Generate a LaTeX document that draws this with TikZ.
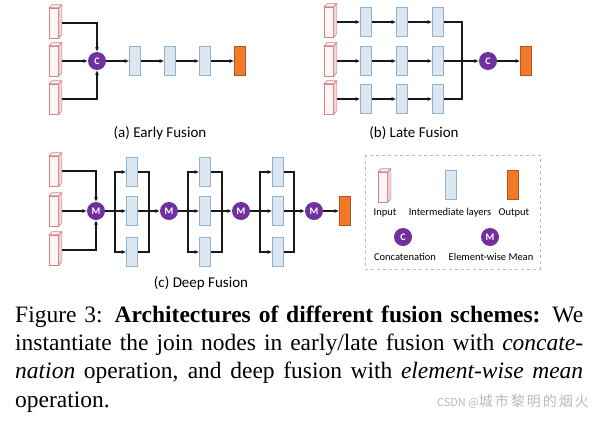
\documentclass[tikz,border=0pt]{standalone}
\usepackage{fontspec}
\setmainfont{Liberation Serif}
\setsansfont{Carlito}
\newfontfamily\cjkfont{Noto Sans CJK SC}
\usetikzlibrary{arrows.meta}

\definecolor{inedge}{RGB}{212,132,138}
\definecolor{infill}{RGB}{254,245,245}
\definecolor{inshade}{RGB}{246,215,216}
\definecolor{midedge}{RGB}{140,180,215}
\definecolor{midfill}{RGB}{222,230,240}
\definecolor{outedge}{RGB}{180,85,30}
\definecolor{outfill}{RGB}{240,122,40}
\definecolor{joinfill}{RGB}{112,48,160}
\definecolor{linkcol}{RGB}{25,25,25}
\definecolor{markgray}{RGB}{185,185,185}

\tikzset{
  inp/.style={draw=inedge, fill=infill, line width=0.6pt, minimum width=9pt, minimum height=30pt, inner sep=0pt},
  mid/.style={draw=midedge, fill=midfill, line width=0.7pt, minimum width=11pt, minimum height=29pt, inner sep=0pt},
  outp/.style={draw=outedge, fill=outfill, line width=0.7pt, minimum width=11pt, minimum height=29pt, inner sep=0pt},
  joint/.style={circle, fill=joinfill, minimum size=18pt, inner sep=0pt, text=white, font=\sffamily\bfseries\fontsize{10}{10}\selectfont},
  lnk/.style={draw=linkcol, line width=1.1pt},
  arr/.style={lnk, -{Latex[length=4.5pt,width=4pt]}},
  sub/.style={font=\sffamily\fontsize{15}{15}\selectfont, anchor=base},
  leg/.style={font=\sffamily\fontsize{10.5}{10.5}\selectfont, anchor=base},
  captext/.style={font=\fontsize{23.5}{28.4}\selectfont, anchor=base west, inner sep=0pt}
}

% input prism: front face plus side and top
\newcommand{\inprism}[2]{%
  \node[inp] (#1) at (#2) {};
  \draw[inedge, fill=inshade, line width=0.6pt] (#1.north east) -- ++(3pt,3pt) -- ++(0pt,-30pt) -- (#1.south east) -- cycle;
  \draw[inedge, fill=infill, line width=0.6pt] (#1.north west) -- ++(3pt,3pt) -- ++(9pt,0pt) -- (#1.north east) -- cycle;
}

\begin{document}
\begin{tikzpicture}[x=1pt,y=-1pt]
  \path[fill=white] (0,0) rectangle (602,421);
  \useasboundingbox (0,0) rectangle (602,421);

  % (a) early fusion
  \inprism{ina1}{54,23}
  \inprism{ina2}{54,61}
  \inprism{ina3}{54,99}
  \node[joint] (ca) at (97,61) {C};
  \node[mid] (ma1) at (135,61) {};
  \node[mid] (ma2) at (170,61) {};
  \node[mid] (ma3) at (205,61) {};
  \node[outp] (outa) at (240,61) {};
  \draw[arr] ([xshift=3pt]ina1.east) -| (ca);
  \draw[arr] ([xshift=3pt]ina2.east) -- (ca);
  \draw[arr] ([xshift=3pt]ina3.east) -| (ca);
  \draw[arr] (ca) -- (ma1);
  \draw[arr] (ma1) -- (ma2);
  \draw[arr] (ma2) -- (ma3);
  \draw[arr] (ma3) -- (outa);
  \node[sub] (suba) at (160,137) {(a) Early Fusion};

  % (b) late fusion
  \foreach \r/\y in {1/22, 2/61, 3/99} {
    \inprism{inb\r}{329,\y}
    \node[mid] (mb\r1) at (366,\y) {};
    \node[mid] (mb\r2) at (402,\y) {};
    \node[mid] (mb\r3) at (438,\y) {};
    \draw[arr] ([xshift=3pt]inb\r.east) -- (mb\r1);
    \draw[arr] (mb\r1) -- (mb\r2);
    \draw[arr] (mb\r2) -- (mb\r3);
  }
  \coordinate (busb) at (462,61);
  \node[joint] (cb) at (488,61) {C};
  \node[outp] (outb) at (526,61) {};
  \draw[lnk] (mb13) -| (busb);
  \draw[lnk] (mb33) -| (busb);
  \draw[arr] (mb23) -- (cb);
  \draw[arr] (cb) -- (outb);
  \node[sub] (subb) at (414,137) {(b) Late Fusion};

  % (c) deep fusion
  \inprism{inc1}{54,171}
  \inprism{inc2}{54,211}
  \inprism{inc3}{54,250}
  \node[joint] (m0) at (96,211) {M};
  \draw[arr] ([xshift=3pt]inc1.east) -| (m0);
  \draw[arr] ([xshift=3pt]inc2.east) -- (m0);
  \draw[arr] ([xshift=3pt]inc3.east) -| (m0);
  \foreach \g/\p/\lx/\bx/\rx/\jx in {1/0/115/132/149/169, 2/1/188/205/222/241, 3/2/260/278/294/314} {
    \node[mid] (g\g t) at (\bx,172) {};
    \node[mid] (g\g m) at (\bx,211) {};
    \node[mid] (g\g b) at (\bx,252) {};
    \coordinate (l\g) at (\lx,211);
    \coordinate (r\g) at (\rx,211);
    \node[joint] (m\g) at (\jx,211) {M};
    \draw[arr] (m\p) -- (g\g m);
    \draw[arr] (l\g) |- (g\g t);
    \draw[arr] (l\g) |- (g\g b);
    \draw[lnk] (g\g t) -| (r\g);
    \draw[lnk] (g\g b) -| (r\g);
    \draw[arr] (g\g m) -- (m\g);
  }
  \node[outp] (outc) at (345,211) {};
  \draw[arr] (m3) -- (outc);
  \node[sub] (subc) at (201,287) {(c) Deep Fusion};

  % legend
  \draw[markgray, dashed, line width=0.8pt] (365,155) rectangle (540,269);
  \inprism{lgin}{383,187}
  \node[mid] (lgmid) at (451,185) {};
  \node[outp] (lgout) at (513,185) {};
  \node[leg] (lgint) at (385,215) {Input};
  \node[leg] (lgitm) at (450,215) {Intermediate layers};
  \node[leg] (lgotx) at (514,215) {Output};
  \node[joint] (lgc) at (403,237) {C};
  \node[joint] (lgm) at (490,237) {M};
  \node[leg] (lgcat) at (405,260) {Concatenation};
  \node[leg] (lgmean) at (491,260) {Element-wise Mean};

  % caption
  \node[captext] (cap1) at (15,322) {\makebox[568pt][s]{Figure 3: \textbf{Architectures of different fusion schemes:} We}};
  \node[captext] (cap2) at (15,350.5) {\makebox[568pt][s]{instantiate the join nodes in early/late fusion with \textit{concate-}}};
  \node[captext] (cap3) at (15,378.5) {\makebox[568pt][s]{\textit{nation} operation, and deep fusion with \textit{element-wise mean}}};
  \node[captext] (cap4) at (15,407) {operation.};
  \node[anchor=base east, inner sep=0pt, text=markgray, font=\cjkfont\fontsize{11}{11}\selectfont] (mark) at (589,406) {CSDN @\fontsize{14}{14}\selectfont 城\hspace{2pt}市\hspace{2pt}黎\hspace{2pt}明\hspace{2pt}的\hspace{2pt}烟\hspace{2pt}火};
\end{tikzpicture}
\end{document}
